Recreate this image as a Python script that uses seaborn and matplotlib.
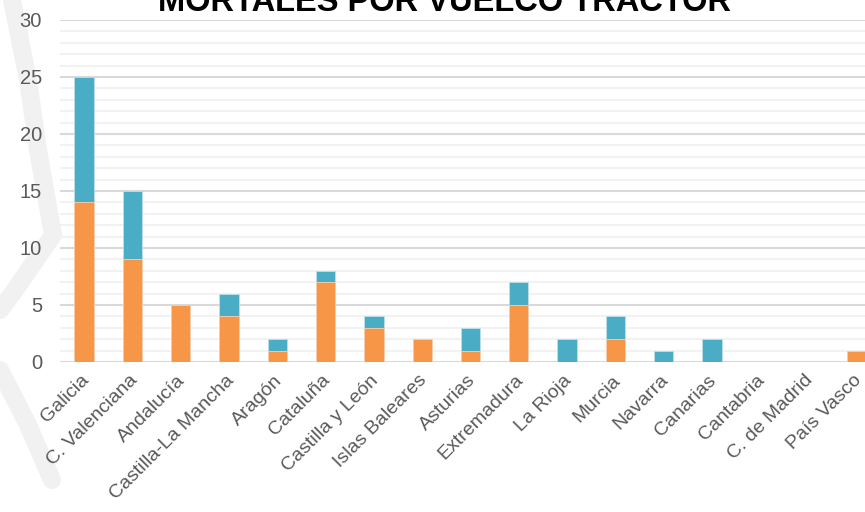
import matplotlib
matplotlib.use("Agg")
import matplotlib.pyplot as plt
import matplotlib.transforms as mtransforms
from matplotlib.lines import Line2D
import seaborn as sns
import pandas as pd

regiones = ["Galicia", "C. Valenciana", "Andalucía", "Castilla-La Mancha", "Aragón",
            "Cataluña", "Castilla y León", "Islas Baleares", "Asturias", "Extremadura",
            "La Rioja", "Murcia", "Navarra", "Canarias", "Cantabria", "C. de Madrid",
            "País Vasco"]
serie_naranja = [14, 9, 5, 4, 1, 7, 3, 2, 1, 5, 0, 2, 0, 0, 0, 0, 1]
serie_azul = [11, 6, 0, 2, 1, 1, 1, 0, 2, 2, 2, 2, 1, 2, 0, 0, 0]

NARANJA = "#F79646"
AZUL = "#4BACC6"

df = pd.DataFrame({"region": regiones, "naranja": serie_naranja, "azul": serie_azul})
df["total"] = df["naranja"] + df["azul"]

sns.set_theme(style="white")
plt.rcParams["font.family"] = ["Liberation Sans", "DejaVu Sans"]

fig = plt.figure(figsize=(8.65, 5.12), dpi=100)

# marca de agua gris de fondo
for xs, ys in [([12, 28, 38, 53, 15, 0], [0, 80, 150, 235, 290, 310]),
               ([0, 28, 52], [370, 425, 480])]:
    fig.add_artist(Line2D([x / 865 for x in xs], [1 - y / 512 for y in ys],
                          color="#f1f1f1", lw=13, solid_capstyle="round",
                          solid_joinstyle="round", zorder=0))

ax = fig.add_axes([60 / 865, 0.293, 821 / 865, 0.668])
ax.patch.set_alpha(0)

sns.barplot(data=df, x="region", y="total", color=AZUL, width=0.4,
            saturation=1, edgecolor="#bfe0ea", linewidth=0.6, ax=ax, zorder=3)
sns.barplot(data=df, x="region", y="naranja", color=NARANJA, width=0.4,
            saturation=1, edgecolor="#fbd0ad", linewidth=0.6, ax=ax, zorder=4)

ax.set_ylim(0, 30)
ax.set_xlim(-0.5, len(regiones) - 0.5)
ax.set_yticks(range(0, 31, 5))
ax.set_yticks(range(0, 31, 1), minor=True)
ax.grid(axis="y", which="minor", color="#f2f2f2", lw=1.5, zorder=0)
ax.grid(axis="y", which="major", color="#d9d9d9", lw=1.5, zorder=1)
ax.set_axisbelow(True)
for s in ax.spines.values():
    s.set_visible(False)
ax.axhline(0, color="#d9d9d9", lw=2, zorder=2)

ax.set_xlabel("")
ax.set_ylabel("")
ax.tick_params(axis="both", which="both", length=0, colors="#595959")
ax.tick_params(axis="y", pad=13, labelsize=14.5)
ax.tick_params(axis="x", pad=7, labelsize=14)
plt.setp(ax.get_yticklabels(), ha="right")
offset = mtransforms.ScaledTranslation(-4 / 100, 0, fig.dpi_scale_trans)
for lbl in ax.get_xticklabels():
    lbl.set_rotation(45)
    lbl.set_ha("right")
    lbl.set_rotation_mode("anchor")
    lbl.set_transform(lbl.get_transform() + offset)

fig.text(445 / 865, 1 - 11 / 512, "MORTALES POR VUELCO TRACTOR", ha="center",
         va="baseline", fontsize=23.5, fontweight="bold", color="black")

fig.savefig("out.png", dpi=100)
